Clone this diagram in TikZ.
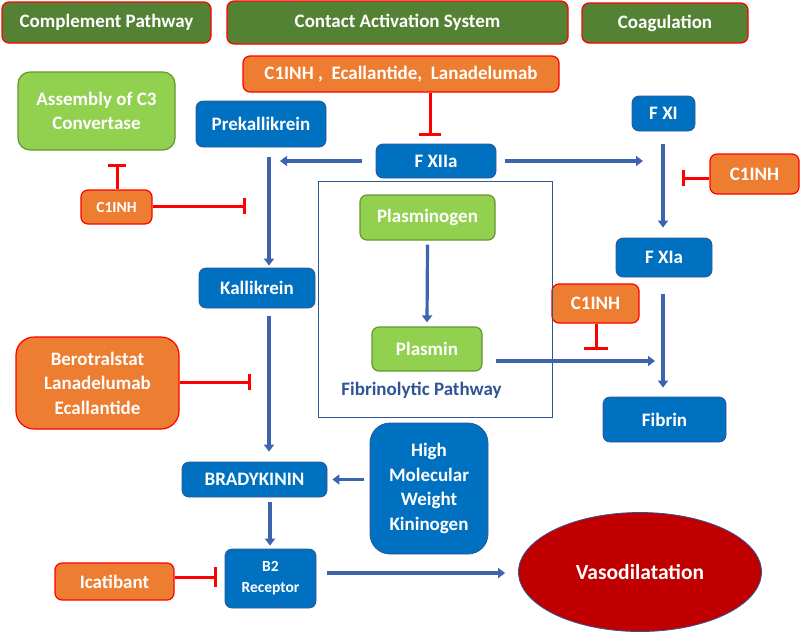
\documentclass[tikz,border=0pt]{standalone}
\usepackage{fontspec}
\setmainfont{Carlito}
\usetikzlibrary{arrows.meta,shapes.geometric}
\definecolor{dkgreen}{RGB}{84,130,53}
\definecolor{orng}{RGB}{237,125,49}
\definecolor{lgreen}{RGB}{146,208,80}
\definecolor{lgedge}{RGB}{100,150,50}
\definecolor{blu}{RGB}{0,112,192}
\definecolor{bluedge}{RGB}{47,85,151}
\definecolor{arrblue}{RGB}{62,100,176}
\definecolor{vred}{RGB}{192,0,0}
\begin{document}
\begin{tikzpicture}[x=1pt,y=-1pt,
 box/.style={rounded corners=7pt, font=\bfseries\fontsize{19}{24.5}\selectfont, text=white, align=center, inner sep=0pt, line width=1.2pt},
 hdr/.style={box, fill=dkgreen, draw=red},
 drug/.style={box, fill=orng, draw=red},
 bbox/.style={box, fill=blu, draw=bluedge, line width=0.8pt},
 lgr/.style={box, fill=lgreen, draw=lgedge},
 arr/.style={-{Triangle[width=10pt,length=7pt]}, line width=3.2pt, draw=arrblue},
 inh/.style={-{Bar[width=#1,line width=3pt]}, line width=3pt, red},
 inh/.default=20pt
]
\useasboundingbox (0,0) rectangle (800,633);

% headers
\node[hdr, minimum width=209, minimum height=41] (cp) at (106.5,22.5) {Complement Pathway};
\node[hdr, minimum width=341, minimum height=43] (cas) at (397.5,22.5) {Contact Activation System};
\node[hdr, minimum width=166, minimum height=40] (coag) at (665,23) {Coagulation};

% drugs
\node[drug, minimum width=316, minimum height=36] (dtop) at (401,74) {C1INH ,\ \ Ecallantide,\ \ Lanadelumab};
\node[drug, minimum width=71, minimum height=34, font=\bfseries\fontsize{15.5}{20}\selectfont] (c1l) at (116.5,207) {C1INH};
\node[drug, minimum width=89, minimum height=40] (c1r) at (754.5,174) {C1INH};
\node[drug, minimum width=87, minimum height=39] (c1m) at (595.5,303.5) {C1INH};
\node[drug, minimum width=163, minimum height=92, rounded corners=18pt] (bero) at (97.5,383) {Berotralstat\\Lanadelumab\\Ecallantide};
\node[drug, minimum width=119, minimum height=37] (ica) at (114.5,581.5) {Icatibant};

% green
\node[lgr, minimum width=157, minimum height=78, rounded corners=12pt] (c3) at (96.5,111) {Assembly of C3\\Convertase};

% fibrinolytic box
\node[draw=bluedge, line width=1pt, minimum width=234, minimum height=236, inner sep=0pt] (fbox) at (435,299) {};
\node[lgr, minimum width=135, minimum height=45] (plg) at (427.5,217.5) {Plasminogen};
\node[lgr, minimum width=110, minimum height=44] (pl) at (427,349) {Plasmin};
\node[font=\bfseries\fontsize{19}{22}\selectfont, text=bluedge] (flab) at (421.5,390) {Fibrinolytic Pathway};

% blue
\node[bbox, minimum width=130, minimum height=46] (prek) at (261,124) {Prekallikrein};
\node[bbox, minimum width=120, minimum height=34] (fxiia) at (436,161) {F XIIa};
\node[bbox, minimum width=63, minimum height=35] (fxi) at (663.5,113.5) {F XI};
\node[bbox, minimum width=96, minimum height=39] (fxia) at (664,257.5) {F XIa};
\node[bbox, minimum width=123, minimum height=45] (fibrin) at (664.5,419.5) {Fibrin};
\node[bbox, minimum width=116, minimum height=40] (kal) at (257,288) {Kallikrein};
\node[bbox, minimum width=145, minimum height=35] (brady) at (254.5,479.5) {BRADYKININ};
\node[bbox, minimum width=118, minimum height=131, rounded corners=20pt] (hmwk) at (429,488.5) {High\\Molecular\\Weight\\Kininogen};
\node[bbox, minimum width=91, minimum height=59, font=\bfseries\fontsize{15.5}{21}\selectfont] (b2) at (270.5,578.5) {\raisebox{-3pt}{B2}\\\raisebox{-3pt}{Receptor}};
\node[ellipse, fill=vred, draw=bluedge, line width=0.8pt, minimum width=243, minimum height=119, inner sep=0pt, text=white, font=\bfseries\fontsize{21.5}{24}\selectfont] (vaso) at (640,572) {Vasodilatation};

% free ends
\coordinate (jn) at (280,161);
\coordinate (kx) at (269,0);
\coordinate (bx) at (270,0);
\coordinate (fx) at (663,0);
\coordinate (fibx) at (655,361);
\coordinate (t1) at (430,136);
\coordinate (t2) at (117,164);
\coordinate (t3) at (246,206);
\coordinate (t4) at (682,178);
\coordinate (t5) at (596,350);
\coordinate (t6) at (251,382);
\coordinate (t7) at (217,577);

% blue arrows
\draw[arr] ([xshift=-14]fxiia.west) -- (jn);
\draw[arr] ([xshift=9]fxiia.east) -- ([xshift=-20]fxiia.east -| fx);
\draw[arr] ([yshift=-10]prek.south -| kx) -- ([yshift=2]kal.north -| kx);
\draw[arr] ([yshift=-13]fxi.south -| fx) -- ([yshift=10]fxia.north -| fx);
\draw[arr] ([yshift=-17]fxia.south -| fx) -- ([yshift=9]fibrin.north -| fx);
\draw[arr] ([yshift=-4]plg.south) -- ([yshift=4]pl.north);
\draw[arr] ([xshift=13,yshift=-12]pl.east) -- (fibx);
\draw[arr] ([yshift=-8]kal.south -| kx) -- ([yshift=10]brady.north -| kx);
\draw[arr] ([xshift=-6]hmwk.west |- brady) -- ([xshift=5]brady.east);
\draw[arr] ([yshift=-5]brady.south -| bx) -- ([yshift=3]b2.north -| bx);
\draw[arr] ([xshift=11,yshift=5.5]b2.east) -- ([xshift=-13,yshift=-1]vaso.west);

% inhibitions
\draw[inh=22pt] (dtop.south -| t1) -- (t1);
\draw[inh=18pt] (c1l.north -| t2) -- (t2);
\draw[inh=16pt] (c1l.east |- t3) -- (t3);
\draw[inh=16pt] (c1r.west |- t4) -- (t4);
\draw[inh=24pt] (c1m.south -| t5) -- (t5);
\draw[inh=16pt] (bero.east |- t6) -- (t6);
\draw[inh=20pt] (ica.east |- t7) -- (t7);
\end{tikzpicture}
\end{document}
